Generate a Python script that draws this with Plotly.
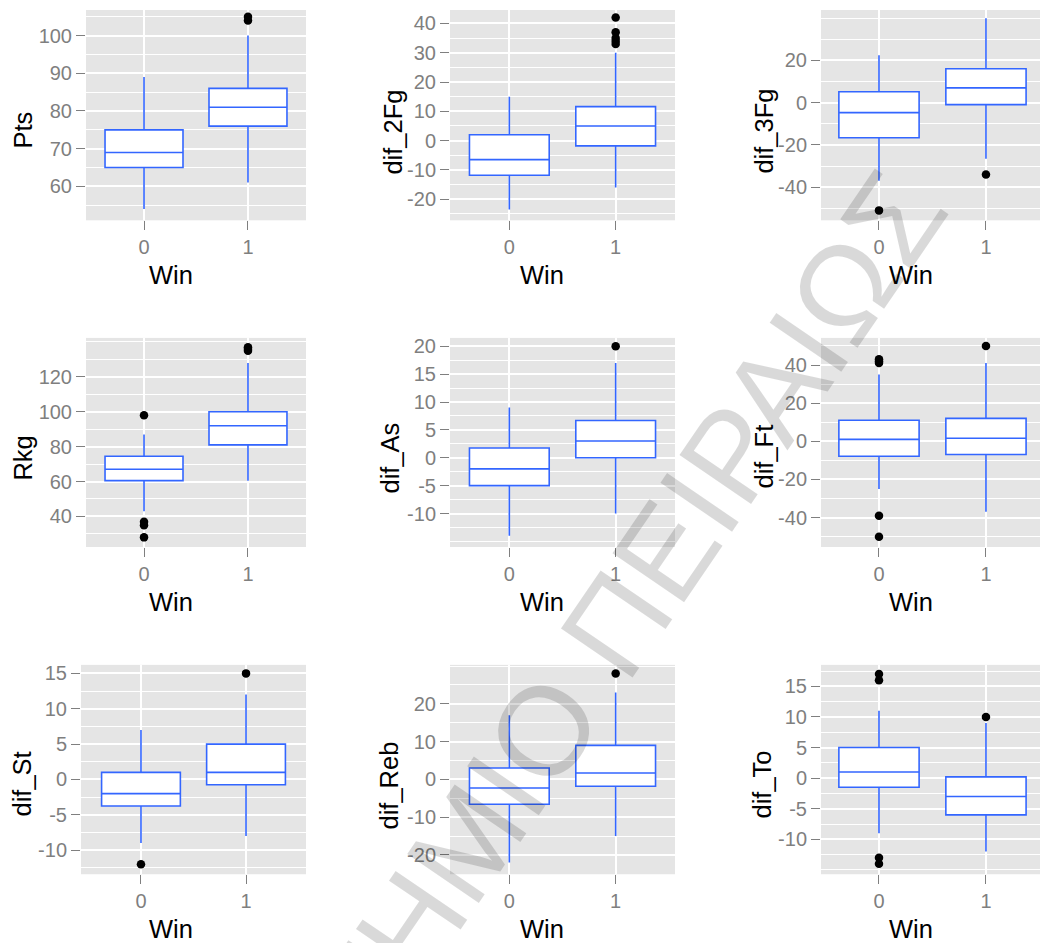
import plotly.graph_objects as go

# ---------------- data ----------------
variables = ["Pts", "dif_2Fg", "dif_3Fg", "Rkg", "dif_As", "dif_Ft", "dif_St", "dif_Reb", "dif_To"]
win_levels = ["0", "1"]

# Win = 0
lower0  = [54, -23.5, -37, 43, -14, -25, -9, -22, -9]
q1_0    = [65, -11.8, -16.6, 60.5, -5, -7.8, -3.75, -6.6, -1.5]
median0 = [69, -6.5, -4.7, 67, -2, 1, -2, -2.3, 1]
q3_0    = [75, 2, 5.2, 74.5, 1.75, 11, 1, 3, 5]
upper0  = [89, 15, 22.5, 87, 9, 35, 7, 17, 11]
outliers0 = [[], [], [-51], [98, 37, 35, 28], [], [41, 42, 43, -39, -50], [-12], [], [16, 17, -13, -14]]

# Win = 1
lower1  = [61, -16, -26.5, 60.5, -10, -37, -8, -15, -12]
q1_1    = [76, -1.8, -0.9, 81, 0, -6.9, -0.75, -1.8, -6]
median1 = [81, 5, 7, 92, 3, 1.6, 1, 1.7, -3]
q3_1    = [86, 11.6, 16.1, 100, 6.7, 12, 5, 9, 0.2]
upper1  = [100, 30, 40, 128, 17, 41, 12, 23, 9]
outliers1 = [[104, 105], [42, 37, 35, 34, 33], [-34], [135, 136, 137], [20], [50], [15], [28], [10]]

# y-axis tick labels per panel
yticks = [
    [60, 70, 80, 90, 100],
    [-20, -10, 0, 10, 20, 30, 40],
    [-40, -20, 0, 20],
    [40, 60, 80, 100, 120],
    [-10, -5, 0, 5, 10, 15, 20],
    [-40, -20, 0, 20, 40],
    [-10, -5, 0, 5, 10, 15],
    [-20, -10, 0, 10, 20],
    [-10, -5, 0, 5, 10, 15],
]
minor_step = [5, 5, 10, 10, 2.5, 10, 2.5, 5, 2.5]

# ---------------- layout geometry (pixels) ----------------
W, H = 1040, 943
panels = [  # left, right, top, bottom
    (86, 306, 7, 218), (450, 675, 7, 218), (821, 1040, 7, 218),
    (86, 306, 336, 545.7), (450, 675, 336, 545.7), (821, 1040, 336, 545.7),
    (81, 306, 664, 874), (450, 675, 664, 874), (821, 1040, 664, 874),
]
xranges = [[-0.558, 1.558], [-0.558, 1.558], [-0.542, 1.505]] * 2 + [[-0.571, 1.571], [-0.558, 1.558], [-0.542, 1.505]]
yranges = [[51.0, 106.8], [-27.2, 44.6], [-55.7, 43.9], [22.5, 142.3], [-16.0, 21.5],
           [-55.4, 54.2], [-13.4, 16.2], [-25.1, 30.3], [-15.7, 18.5]]
ytitle_pos = [(23, 128), (393, 130), (764, 129), (23, 457), (390, 457), (764, 455),
              (22, 784), (389, 785), (762, 784)]
xtitle_pos = [(171, 272.5), (541.7, 272.5), (911, 272.5), (171, 600.8), (541.7, 600.8), (911, 600.8),
              (171, 929), (541.7, 929), (911, 929)]

FONT = "Liberation Sans, Arial, Helvetica, sans-serif"
BLUE = "#3366FF"
GRID = "white"
TICKC = "#7F7F7F"

fig = go.Figure()
annotations = []
layout_axes = {}

for i, var in enumerate(variables):
    n = "" if i == 0 else str(i + 1)
    xa, ya = "x" + n, "y" + n
    fig.add_trace(go.Box(
        x=[0, 1],
        q1=[q1_0[i], q1_1[i]], median=[median0[i], median1[i]], q3=[q3_0[i], q3_1[i]],
        lowerfence=[lower0[i], lower1[i]], upperfence=[upper0[i], upper1[i]],
        width=0.75, whiskerwidth=0, fillcolor="white",
        line=dict(color=BLUE, width=1.6), boxpoints=False,
        xaxis=xa, yaxis=ya, hoverinfo="skip",
    ))
    ox = [0] * len(outliers0[i]) + [1] * len(outliers1[i])
    oy = outliers0[i] + outliers1[i]
    fig.add_trace(go.Scatter(
        x=ox, y=oy, mode="markers",
        marker=dict(color="black", size=8.5, line=dict(width=0)),
        xaxis=xa, yaxis=ya, hoverinfo="skip",
    ))
    l, r, t, b = panels[i]
    layout_axes["xaxis" + n] = dict(
        domain=[l / W, r / W], anchor=ya, range=xranges[i],
        tickmode="array", tickvals=[0, 1], ticktext=win_levels,
        ticks="outside", ticklen=9, tickwidth=1.2, tickcolor=TICKC,
        tickfont=dict(family=FONT, size=20, color=TICKC),
        showgrid=True, gridcolor=GRID, gridwidth=1.8,
        zeroline=False, showline=False, fixedrange=True,
    )
    layout_axes["yaxis" + n] = dict(
        domain=[1 - b / H, 1 - t / H], anchor=xa, range=yranges[i],
        tickmode="array", tickvals=yticks[i], ticktext=[str(v) for v in yticks[i]],
        ticks="outside", ticklen=9, tickwidth=1.2, tickcolor=TICKC,
        tickfont=dict(family=FONT, size=20, color=TICKC),
        showgrid=True, gridcolor=GRID, gridwidth=1.8,
        minor=dict(tickmode="linear", tick0=0, dtick=minor_step[i], showgrid=True,
                   gridcolor=GRID, gridwidth=0.9, ticks=""),
        zeroline=False, showline=False, fixedrange=True,
    )
    yx, yy = ytitle_pos[i]
    annotations.append(dict(text=var, x=yx / W, y=1 - yy / H, xref="paper", yref="paper",
                            textangle=-90, showarrow=False, xanchor="center", yanchor="middle",
                            font=dict(family=FONT, size=25.5, color="black")))
    xx, xy = xtitle_pos[i]
    annotations.append(dict(text="Win", x=xx / W, y=1 - xy / H, xref="paper", yref="paper",
                            showarrow=False, xanchor="center", yanchor="middle",
                            font=dict(family=FONT, size=25.5, color="black")))

# watermark
annotations.append(dict(text="ΠΑΝΕΠΙΣΤΗΜΙΟ ΠΕΙΡΑΙΩΣ", x=472.6 / W, y=1 - 833.7 / H,
                        xref="paper", yref="paper", showarrow=False, textangle=-55.7,
                        xanchor="center", yanchor="middle",
                        font=dict(family=FONT, size=126, color="rgba(0,0,0,0.15)")))

fig.update_layout(
    width=W, height=H, margin=dict(l=0, r=0, t=0, b=0),
    paper_bgcolor="white", plot_bgcolor="#E5E5E5",
    showlegend=False, annotations=annotations, **layout_axes,
)

fig.write_html("out.html", config={"displayModeBar": False},
               post_script="document.body.style.margin='0';document.body.style.overflow='hidden';")
